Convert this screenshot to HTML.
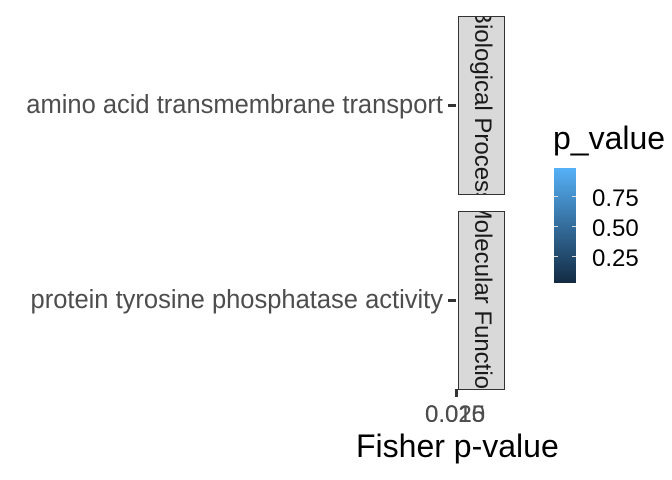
<!DOCTYPE html>
<html><head><style>
body{margin:0;width:672px;height:480px;background:#fff;position:relative;overflow:hidden;font-family:"Liberation Sans",sans-serif}
.a{position:absolute;white-space:nowrap;line-height:1}
.strip{position:absolute;left:458px;width:47px;background:#d9d9d9;border:1px solid #333;box-sizing:border-box;overflow:hidden}
.strip span{position:absolute;left:50%;top:50%;transform:translate(-50%,-50%) rotate(90deg);font-size:24px;line-height:1;color:#1a1a1a;white-space:nowrap}
.ylab{position:absolute;right:229px;font-size:25.5px;line-height:1;color:#4d4d4d;white-space:nowrap}
</style></head><body>
<div class="ylab" style="top:93px">amino acid transmembrane transport</div>
<div class="ylab" style="top:288px">protein tyrosine phosphatase activity</div>
<div class="a" style="left:448px;top:104px;width:8px;height:3px;background:#333"></div>
<div class="a" style="left:448px;top:299px;width:8px;height:3px;background:#333"></div>
<div class="strip" style="top:16px;height:179px"><span>Biological Process</span></div>
<div class="strip" style="top:211px;height:179px"><span>Molecular Function</span></div>
<div class="a" style="left:455px;top:389px;width:3px;height:8px;background:#333"></div>
<div class="a" style="left:425px;top:403px;font-size:24px;color:#4d4d4d">0.010</div>
<div class="a" style="left:425px;top:403px;font-size:24px;color:#4d4d4d">0.025</div>
<div class="a" style="left:425px;top:403px;font-size:24px;color:#4d4d4d">0.015</div>
<div class="a" style="left:356px;top:430px;font-size:32px;color:#000">Fisher p-value</div>
<div class="a" style="left:553px;top:122px;font-size:32px;color:#000">p_value</div>
<div class="a" style="left:554px;top:168px;width:22px;height:115px;background:linear-gradient(#56b1f7,#132b43)"></div>
<div class="a" style="left:554px;top:196px;width:4px;height:1px;background:#ddd"></div><div class="a" style="left:572px;top:196px;width:4px;height:1px;background:#ddd"></div>
<div class="a" style="left:554px;top:226px;width:4px;height:1px;background:#ddd"></div><div class="a" style="left:572px;top:226px;width:4px;height:1px;background:#ddd"></div>
<div class="a" style="left:554px;top:256px;width:4px;height:1px;background:#ddd"></div><div class="a" style="left:572px;top:256px;width:4px;height:1px;background:#ddd"></div>
<div class="a" style="left:592px;top:187px;font-size:24px">0.75</div>
<div class="a" style="left:592px;top:217px;font-size:24px">0.50</div>
<div class="a" style="left:592px;top:247px;font-size:24px">0.25</div>
</body></html>
